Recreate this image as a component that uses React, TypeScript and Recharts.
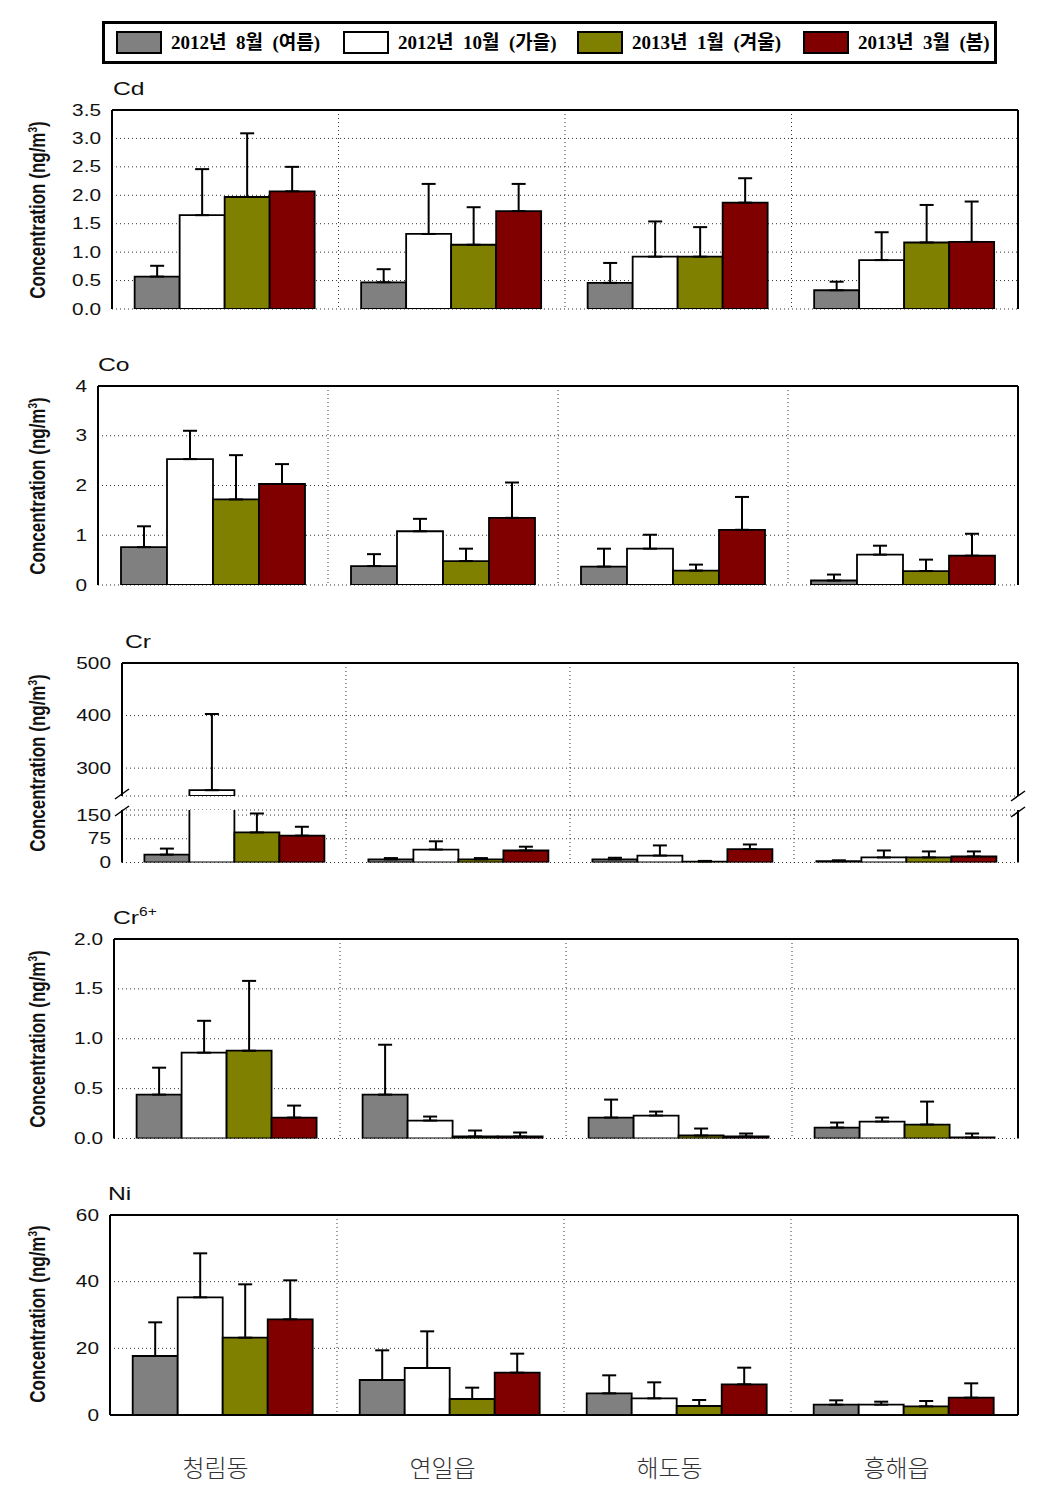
import React from "react";
import { BarChart, Bar, XAxis, YAxis, CartesianGrid, ErrorBar } from "recharts";

const sites = ["청림동", "연일읍", "해도동", "흥해읍"];
const seasons = ["2012년 8월 (여름)", "2012년 10월 (가을)", "2013년 1월 (겨울)", "2013년 3월 (봄)"];
const seasonColors = ["#808080", "#ffffff", "#808000", "#800000"];

// Cd: mean per site for each season, and upper error
const cdAug = [0.57, 0.47, 0.46, 0.33];
const cdOct = [1.65, 1.32, 0.92, 0.86];
const cdJan = [1.97, 1.13, 0.92, 1.17];
const cdMar = [2.07, 1.72, 1.87, 1.18];
const cdAugErr = [0.19, 0.23, 0.35, 0.15];
const cdOctErr = [0.81, 0.88, 0.62, 0.49];
const cdJanErr = [1.12, 0.66, 0.52, 0.66];
const cdMarErr = [0.43, 0.48, 0.43, 0.71];

// Co
const coAug = [0.76, 0.38, 0.37, 0.09];
const coOct = [2.53, 1.08, 0.73, 0.61];
const coJan = [1.72, 0.48, 0.29, 0.28];
const coMar = [2.03, 1.35, 1.11, 0.59];
const coAugErr = [0.42, 0.24, 0.36, 0.12];
const coOctErr = [0.57, 0.25, 0.28, 0.18];
const coJanErr = [0.89, 0.25, 0.12, 0.23];
const coMarErr = [0.4, 0.71, 0.66, 0.44];

// Cr
const crAug = [25, 10, 10, 4];
const crOct = [258, 41, 22, 16];
const crJan = [95, 10, 3, 16];
const crMar = [85, 38, 42, 19];
const crAugErr = [19, 4, 5, 3];
const crOctErr = [145, 26, 32, 22];
const crJanErr = [60, 4, 2, 19];
const crMarErr = [28, 12, 15, 16];

// Cr6+
const cr6Aug = [0.44, 0.44, 0.21, 0.11];
const cr6Oct = [0.86, 0.18, 0.23, 0.17];
const cr6Jan = [0.88, 0.02, 0.03, 0.14];
const cr6Mar = [0.21, 0.02, 0.02, 0.01];
const cr6AugErr = [0.27, 0.5, 0.18, 0.05];
const cr6OctErr = [0.32, 0.04, 0.04, 0.04];
const cr6JanErr = [0.7, 0.06, 0.07, 0.23];
const cr6MarErr = [0.12, 0.04, 0.03, 0.04];

// Ni
const niAug = [17.7, 10.5, 6.5, 3.1];
const niOct = [35.3, 14.1, 5.0, 3.1];
const niJan = [23.2, 4.8, 2.7, 2.6];
const niMar = [28.7, 12.7, 9.2, 5.2];
const niAugErr = [10.1, 8.9, 5.4, 1.3];
const niOctErr = [13.2, 11.0, 4.8, 0.9];
const niJanErr = [16.0, 3.4, 1.8, 1.6];
const niMarErr = [11.7, 5.7, 5.0, 4.3];

const cdTicks = [0, 0.5, 1, 1.5, 2, 2.5, 3, 3.5];
const coTicks = [0, 1, 2, 3, 4];
const crUpperTicks = [300, 400, 500];
const crLowerTicks = [0, 75, 150];
const cr6Ticks = [0, 0.5, 1, 1.5, 2];
const niTicks = [0, 20, 40, 60];

function buildRows(vals: number[][], errs: number[][]) {
  return sites.map((site, i) => {
    const r: any = { site };
    vals.forEach((arr, k) => {
      r[`v${k}`] = arr[i];
      r[`e${k}`] = errs[k][i];
    });
    return r;
  });
}

const cdRows = buildRows([cdAug, cdOct, cdJan, cdMar], [cdAugErr, cdOctErr, cdJanErr, cdMarErr]);
const coRows = buildRows([coAug, coOct, coJan, coMar], [coAugErr, coOctErr, coJanErr, coMarErr]);
const crRows = buildRows([crAug, crOct, crJan, crMar], [crAugErr, crOctErr, crJanErr, crMarErr]);
const cr6Rows = buildRows([cr6Aug, cr6Oct, cr6Jan, cr6Mar], [cr6AugErr, cr6OctErr, cr6JanErr, cr6MarErr]);
const niRows = buildRows([niAug, niOct, niJan, niMar], [niAugErr, niOctErr, niJanErr, niMarErr]);

const sans = "'Liberation Sans', Arial, sans-serif";

const YTick = (p: any) => (
  <text
    x={0}
    y={0}
    transform={`translate(${p.x},${p.y}) scale(1.3,1)`}
    textAnchor="end"
    dominantBaseline="central"
    fontSize={16}
    fill="#111"
    fontFamily={sans}
  >
    {Number(p.payload.value).toFixed(p.decimals)}
  </text>
);

const SiteTick = (p: any) => (
  <text
    x={p.x - 8}
    y={p.y + 43}
    textAnchor="middle"
    dominantBaseline="central"
    fontSize={24}
    fontWeight={300}
    fill="#333"
    fontFamily="'Noto Sans CJK KR', sans-serif"
  >
    {p.payload.value}
  </text>
);

// dotted dividers between the four sites
const siteDividers = ({ offset }: any) => [1, 2, 3].map((i) => offset.left + (offset.width * i) / 4);

type PanelProps = {
  rows: any[];
  plotLeft: number;
  plotTop: number;
  plotBottom: number;
  domain: [number, number];
  ticks: number[];
  decimals: number;
  lo?: number;
  hi?: number;
  frameTop?: boolean;
  axisBottom?: boolean;
  sitesAxis?: boolean;
};

function Panel({
  rows, plotLeft, plotTop, plotBottom, domain, ticks, decimals,
  lo = -Infinity, hi = Infinity, frameTop = true, axisBottom = true, sitesAxis = false,
}: PanelProps) {
  const mTop = 14;
  const mBottom = 14;
  const xH = sitesAxis ? 64 : 0;
  const height = plotBottom - plotTop + mTop + mBottom + xH;
  const line = { stroke: "#000", strokeWidth: 2 };
  return (
    <div style={{ position: "absolute", left: 0, top: plotTop - mTop }}>
      <BarChart
        width={1030}
        height={height}
        data={rows}
        margin={{ top: mTop - 1, right: 11, bottom: mBottom, left: 0 }}
        barCategoryGap="10%"
        barGap={0}
      >
        <CartesianGrid
          stroke="#333"
          strokeDasharray="1 3"
          verticalCoordinatesGenerator={siteDividers}
        />
        <XAxis
          dataKey="site"
          hide={!axisBottom}
          height={xH}
          axisLine={line}
          tickLine={false}
          interval={0}
          tick={sitesAxis ? SiteTick : false}
        />
        <XAxis
          xAxisId="frame"
          orientation="top"
          dataKey="site"
          height={1}
          tick={false}
          tickLine={false}
          axisLine={frameTop ? line : false}
        />
        <YAxis
          width={plotLeft}
          domain={domain}
          ticks={ticks}
          allowDataOverflow
          interval={0}
          axisLine={line}
          tickLine={false}
          tickMargin={5}
          tick={(p: any) => <YTick {...p} decimals={decimals} />}
        />
        <YAxis
          yAxisId="frame"
          orientation="right"
          width={1}
          domain={[0, 1]}
          tick={false}
          tickLine={false}
          axisLine={line}
        />
        {seasonColors.map((c, k) => (
          <Bar
            key={k}
            dataKey={(d: any) => (d[`v${k}`] < lo ? null : d[`v${k}`])}
            fill={c}
            stroke="#000"
            strokeWidth={1.8}
            isAnimationActive={false}
          >
            <ErrorBar
              dataKey={(d: any) => {
                const v = d[`v${k}`];
                return v < lo || v > hi ? null : [0, d[`e${k}`]];
              }}
              width={7}
              stroke="#000"
              strokeWidth={2}
              isAnimationActive={false}
            />
          </Bar>
        ))}
      </BarChart>
    </div>
  );
}

const Title = ({ left, top, children }: { left: number; top: number; children: React.ReactNode }) => (
  <div
    style={{
      position: "absolute",
      left,
      top,
      fontFamily: sans,
      fontSize: 19,
      lineHeight: "19px",
      color: "#111",
      transform: "scaleX(1.3)",
      transformOrigin: "left center",
      whiteSpace: "nowrap",
    }}
  >
    {children}
  </div>
);

const YTitle = ({ center }: { center: number }) => (
  <div
    style={{
      position: "absolute",
      left: 38,
      top: center,
      fontFamily: sans,
      fontWeight: "bold",
      fontSize: 17,
      lineHeight: "17px",
      color: "#111",
      whiteSpace: "nowrap",
      transform: "translate(-50%,-50%) rotate(-90deg) scaleY(1.25)",
    }}
  >
    Concentration (ng/m<sup style={{ fontSize: 10, lineHeight: 0 }}>3</sup>)
  </div>
);

const swatchLeft = [11, 238, 472, 698];

const Legend = () => (
  <div
    style={{
      position: "absolute",
      left: 102,
      top: 21,
      width: 895,
      height: 43,
      border: "3px solid #000",
      boxSizing: "border-box",
      background: "#fff",
    }}
  >
    {seasons.map((s, i) => (
      <div key={s} style={{ position: "absolute", left: swatchLeft[i], top: 7, display: "flex", alignItems: "center" }}>
        <div
          style={{
            width: 46,
            height: 23,
            boxSizing: "border-box",
            border: "2px solid #000",
            background: seasonColors[i],
          }}
        />
        <span
          style={{
            marginLeft: 9,
            fontFamily: "'Liberation Serif', 'Noto Sans CJK KR', serif",
            fontWeight: "bold",
            fontSize: 19,
            lineHeight: "23px",
            color: "#000",
            whiteSpace: "pre",
          }}
        >
          {s.replace(/ /g, "  ")}
        </span>
      </div>
    ))}
  </div>
);

const BreakMarks = () => (
  <svg width={1052} height={1490} style={{ position: "absolute", left: 0, top: 0, pointerEvents: "none" }}>
    {[
      [122, 794],
      [122, 811],
      [1018, 796],
      [1018, 812],
    ].map(([x, y], i) => (
      <line key={i} x1={x - 7} y1={y + 5} x2={x + 7} y2={y - 5} stroke="#000" strokeWidth={1.5} />
    ))}
  </svg>
);

export default function App() {
  return (
    <div style={{ position: "absolute", left: 0, top: 0, width: 1052, height: 1490, background: "#fff" }}>
      <Legend />

      <Title left={113} top={79}>Cd</Title>
      <YTitle center={210} />
      <Panel rows={cdRows} plotLeft={112} plotTop={110} plotBottom={309} domain={[0, 3.5]} ticks={cdTicks} decimals={1} />

      <Title left={98} top={355}>Co</Title>
      <YTitle center={486} />
      <Panel rows={coRows} plotLeft={98} plotTop={386} plotBottom={585} domain={[0, 4]} ticks={coTicks} decimals={0} />

      <Title left={125} top={632}>Cr</Title>
      <YTitle center={763} />
      <Panel
        rows={crRows}
        plotLeft={122}
        plotTop={663}
        plotBottom={796}
        domain={[247, 500]}
        ticks={crUpperTicks}
        decimals={0}
        lo={247}
        axisBottom={false}
      />
      <Panel
        rows={crRows}
        plotLeft={122}
        plotTop={810}
        plotBottom={862.5}
        domain={[0, 166]}
        ticks={crLowerTicks}
        decimals={0}
        hi={166}
        frameTop={false}
      />
      <BreakMarks />

      <Title left={113} top={908}>
        Cr<sup style={{ fontSize: 12, lineHeight: 0, verticalAlign: "8px" }}>6+</sup>
      </Title>
      <YTitle center={1039} />
      <Panel rows={cr6Rows} plotLeft={114} plotTop={939} plotBottom={1138.5} domain={[0, 2]} ticks={cr6Ticks} decimals={1} />

      <Title left={108} top={1184}>Ni</Title>
      <YTitle center={1314} />
      <Panel
        rows={niRows}
        plotLeft={110}
        plotTop={1214.5}
        plotBottom={1414.5}
        domain={[0, 60]}
        ticks={niTicks}
        decimals={0}
        sitesAxis
      />
    </div>
  );
}
